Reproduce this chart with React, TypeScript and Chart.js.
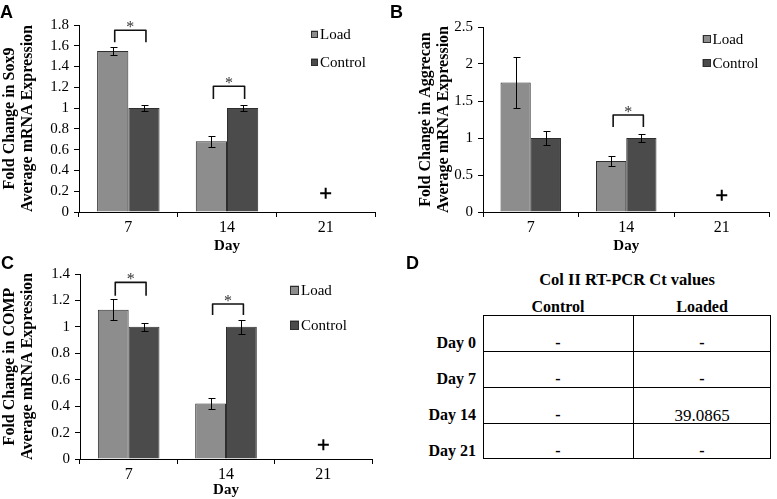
import React, { useEffect, useRef } from 'react';
import { Chart, registerables } from 'chart.js';

Chart.register(...registerables);

const SERIF = "'Liberation Serif', 'Times New Roman', Times, serif";
const SANS = "'Liberation Sans', Arial, Helvetica, sans-serif";

// ---------- shared categories ----------
const days = ['7', '14', '21'];
const seriesNames = ['Load', 'Control'];

// ---------- Panel A : Sox9 ----------
const sox9Load = [1.55, 0.68, null];
const sox9Control = [1.0, 1.0, null];
const sox9LoadErr = [0.04, 0.05, null];
const sox9ControlErr = [0.03, 0.03, null];
const sox9NotDetected = [null, null, 0.18];
const sox9BracketTop = [1.75, 1.21, null];
const sox9BracketLeg = [1.635, 1.087, null];
const sox9Ticks = [0, 0.2, 0.4, 0.6, 0.8, 1, 1.2, 1.4, 1.6, 1.8];

// ---------- Panel B : Aggrecan ----------
const aggLoad = [1.75, 0.69, null];
const aggControl = [1.0, 1.0, null];
const aggLoadErr = [0.35, 0.07, null];
const aggControlErr = [0.09, 0.06, null];
const aggNotDetected = [null, null, 0.226];
const aggBracketTop = [null, 1.31, null];
const aggBracketLeg = [null, 1.15, null];
const aggTicks = [0, 0.5, 1, 1.5, 2, 2.5];

// ---------- Panel C : COMP ----------
const compLoad = [1.13, 0.42, null];
const compControl = [1.0, 1.0, null];
const compLoadErr = [0.08, 0.04, null];
const compControlErr = [0.03, 0.055, null];
const compNotDetected = [null, null, 0.108];
const compBracketTop = [1.337, 1.173, null];
const compBracketLeg = [1.236, 1.09, null];
const compTicks = [0, 0.2, 0.4, 0.6, 0.8, 1, 1.2, 1.4];

// ---------- Panel D : table ----------
const tableTitle = 'Col II RT-PCR Ct values';
const tableHeaders = ['Control', 'Loaded'];
const tableRows = ['Day 0', 'Day 7', 'Day 14', 'Day 21'];
const tableControl = ['-', '-', '-', '-'];
const tableLoaded = ['-', '-', '39.0865', '-'];

const LOAD_COLOR = '#8d8d8d';
const CONTROL_COLOR = '#4b4b4b';
const BAR_BORDER = '#2e2e2e';

type Panel = {
  id: string;
  x: number; y: number; w: number; h: number;
  yAxisW: number; padTop: number; padRight: number; xAxisH: number;
  yTitlePad: number; xTitlePad: number;
  yTitle: string[];
  ticks: number[];
  load: (number | null)[]; control: (number | null)[];
  loadErr: (number | null)[]; controlErr: (number | null)[];
  nd: (number | null)[];
  bTop: (number | null)[]; bLeg: (number | null)[];
  legend: { dx: number; dy: number[]; size: number; gap: number };
};

const panels: Panel[] = [
  {
    id: 'A', x: 0, y: 0, w: 390, h: 260,
    yAxisW: 79, padTop: 25, padRight: 15, xAxisH: 48, yTitlePad: 1, xTitlePad: 6,
    yTitle: ['Fold Change in Sox9', 'Average mRNA Expression'],
    ticks: sox9Ticks,
    load: sox9Load, control: sox9Control, loadErr: sox9LoadErr, controlErr: sox9ControlErr,
    nd: sox9NotDetected, bTop: sox9BracketTop, bLeg: sox9BracketLeg,
    legend: { dx: 64, dy: [9, 37], size: 7, gap: 2 },
  },
  {
    id: 'B', x: 390, y: 0, w: 387, h: 260,
    yAxisW: 93, padTop: 27, padRight: 0, xAxisH: 48, yTitlePad: 27, xTitlePad: 6,
    yTitle: ['Fold Change in Aggrecan', 'Average mRNA Expression'],
    ticks: aggTicks,
    load: aggLoad, control: aggControl, loadErr: aggLoadErr, controlErr: aggControlErr,
    nd: aggNotDetected, bTop: aggBracketTop, bLeg: aggBracketLeg,
    legend: { dx: 67, dy: [12, 36], size: 8, gap: 2 },
  },
  {
    id: 'C', x: 0, y: 250, w: 390, h: 249,
    yAxisW: 80, padTop: 24, padRight: 18, xAxisH: 40, yTitlePad: 1, xTitlePad: 1.5,
    yTitle: ['Fold Change in COMP', 'Average mRNA Expression'],
    ticks: compTicks,
    load: compLoad, control: compControl, loadErr: compLoadErr, controlErr: compControlErr,
    nd: compNotDetected, bTop: compBracketTop, bLeg: compBracketLeg,
    legend: { dx: 82, dy: [16, 51], size: 9, gap: 2 },
  },
];

function buildConfig(p: Panel): any {
  const overlay = {
    id: 'overlay' + p.id,
    afterDatasetsDraw(chart: any) {
      const ctx = chart.ctx;
      const ys = chart.scales.y;
      const m0 = chart.getDatasetMeta(0);
      const m1 = chart.getDatasetMeta(1);
      ctx.save();
      ctx.strokeStyle = '#000';
      ctx.lineWidth = 1;
      const groups: any[] = [
        [p.load, p.loadErr, m0],
        [p.control, p.controlErr, m1],
      ];
      groups.forEach(([vals, errs, meta]) => {
        vals.forEach((v: number | null, i: number) => {
          const e = errs[i];
          if (v == null || e == null) return;
          const el = meta.data[i];
          if (!el) return;
          const x = Math.round(el.x) + 0.5;
          const y1 = Math.round(ys.getPixelForValue(v + e)) + 0.5;
          const y2 = Math.round(ys.getPixelForValue(v - e)) + 0.5;
          ctx.beginPath();
          ctx.moveTo(x, y1); ctx.lineTo(x, y2);
          ctx.moveTo(x - 3, y1); ctx.lineTo(x + 4, y1);
          ctx.moveTo(x - 3, y2); ctx.lineTo(x + 4, y2);
          ctx.stroke();
        });
      });
      p.bTop.forEach((t, i) => {
        const leg = p.bLeg[i];
        if (t == null || leg == null) return;
        const xl = m0.data[i].x + 2;
        const xr = m1.data[i].x + 2;
        const yt = ys.getPixelForValue(t);
        const yl = ys.getPixelForValue(leg);
        ctx.lineWidth = 1.6;
        ctx.lineJoin = 'round';
        ctx.strokeStyle = '#111';
        ctx.beginPath();
        ctx.moveTo(xl, yl); ctx.lineTo(xl, yt); ctx.lineTo(xr, yt); ctx.lineTo(xr, yl);
        ctx.stroke();
        ctx.fillStyle = '#333';
        ctx.font = `16px ${SERIF}`;
        ctx.textAlign = 'center';
        ctx.textBaseline = 'alphabetic';
        ctx.fillText('*', (xl + xr) / 2, yt + 2);
      });
      ctx.restore();
    },
    afterDraw(chart: any) {
      const ctx = chart.ctx;
      const area = chart.chartArea;
      const L = p.legend;
      ctx.save();
      [0, 1].forEach((k) => {
        const ds = chart.data.datasets[k];
        const sx = area.right - L.dx;
        const cy = area.top + L.dy[k];
        ctx.fillStyle = ds.backgroundColor;
        ctx.fillRect(sx, cy - L.size / 2, L.size, L.size);
        ctx.strokeStyle = BAR_BORDER;
        ctx.lineWidth = 1;
        ctx.strokeRect(Math.round(sx) + 0.5, Math.round(cy - L.size / 2) + 0.5, L.size - 1, L.size - 1);
        ctx.fillStyle = '#000';
        ctx.font = `15px ${SERIF}`;
        ctx.textAlign = 'left';
        ctx.textBaseline = 'middle';
        ctx.fillText(ds.label, sx + L.size + L.gap, cy + 1);
      });
      ctx.restore();
    },
  };

  return {
    type: 'bar',
    data: {
      labels: days,
      datasets: [
        {
          label: seriesNames[0], data: p.load,
          backgroundColor: LOAD_COLOR, borderColor: BAR_BORDER, borderWidth: 1,
          barPercentage: 1, categoryPercentage: 0.633,
        },
        {
          label: seriesNames[1], data: p.control,
          backgroundColor: CONTROL_COLOR, borderColor: BAR_BORDER, borderWidth: 1,
          barPercentage: 1, categoryPercentage: 0.633,
        },
        {
          type: 'line', label: 'not detected', data: p.nd,
          showLine: false, pointStyle: 'cross', pointRadius: 5.5,
          pointBorderWidth: 2, borderColor: '#000', backgroundColor: '#000',
        },
      ],
    },
    options: {
      responsive: false,
      maintainAspectRatio: false,
      animation: false,
      devicePixelRatio: 1,
      layout: { padding: { top: p.padTop, right: p.padRight, bottom: 0, left: 0 } },
      plugins: { legend: { display: false }, tooltip: { enabled: false }, title: { display: false } },
      events: [],
      scales: {
        x: {
          type: 'category',
          offset: true,
          grid: { offset: true, drawOnChartArea: false, drawTicks: true, tickLength: 5, color: '#000', lineWidth: 1 },
          border: { display: true, color: '#000', width: 1 },
          ticks: { color: '#000', font: { size: 16, family: SERIF }, padding: 1, maxRotation: 0, autoSkip: false },
          title: {
            display: true, text: 'Day', color: '#000',
            font: { size: 15, weight: 'bold', family: SERIF, lineHeight: 1 },
            padding: { top: 0, bottom: p.xTitlePad },
          },
          afterFit: (s: any) => { s.height = p.xAxisH; },
        },
        y: {
          type: 'linear',
          min: p.ticks[0],
          max: p.ticks[p.ticks.length - 1],
          afterBuildTicks: (s: any) => { s.ticks = p.ticks.map((v) => ({ value: v })); },
          grid: { drawOnChartArea: false, drawTicks: true, tickLength: 5, color: '#000', lineWidth: 1 },
          border: { display: true, color: '#000', width: 1 },
          ticks: {
            color: '#000', font: { size: 15, family: SERIF }, padding: 5, autoSkip: false,
            callback: (v: any) => String(v),
          },
          title: {
            display: true, text: p.yTitle, color: '#000',
            font: { size: 16, weight: 'bold', family: SERIF, lineHeight: 1.1 },
            padding: { top: p.yTitlePad, bottom: 0 },
          },
          afterFit: (s: any) => { s.width = p.yAxisW; },
        },
      },
    },
    plugins: [overlay],
  };
}

function BarPanel({ p }: { p: Panel }) {
  const ref = useRef<HTMLCanvasElement>(null);
  useEffect(() => {
    const chart = new Chart(ref.current as HTMLCanvasElement, buildConfig(p));
    return () => chart.destroy();
  }, [p]);
  return (
    <canvas
      ref={ref}
      width={p.w}
      height={p.h}
      style={{ position: 'absolute', left: p.x, top: p.y, width: p.w, height: p.h }}
    />
  );
}

function Txt({ x, cy, size, bold, align, children, family }: any) {
  const tx = align === 'right' ? 'translateX(-100%)' : align === 'center' ? 'translateX(-50%)' : 'none';
  return (
    <div
      style={{
        position: 'absolute', left: x, top: cy - size * 0.5, fontSize: size, lineHeight: `${size}px`,
        fontWeight: bold ? 'bold' : 'normal', whiteSpace: 'nowrap', transform: tx,
        fontFamily: family || SERIF, color: '#000',
      }}
    >
      {children}
    </div>
  );
}

const letters = [
  { t: 'A', x: 0, top: 3 },
  { t: 'B', x: 390, top: 3 },
  { t: 'C', x: 1, top: 254 },
  { t: 'D', x: 406, top: 254 },
];

const TBL = { left: 483, right: 771, top: 315, rowH: 36, mid: 633, colCx: [558, 702], labelRight: 476 };

function TableD() {
  const bottom = TBL.top + TBL.rowH * tableRows.length;
  return (
    <>
      <Txt x={627} cy={280} size={16.5} bold align="center">{tableTitle}</Txt>
      {tableHeaders.map((h, i) => (
        <Txt key={h} x={TBL.colCx[i]} cy={307} size={16} bold align="center">{h}</Txt>
      ))}
      <div style={{
        position: 'absolute', left: TBL.left, top: TBL.top, width: TBL.right - TBL.left,
        height: bottom - TBL.top, border: '1px solid #000', boxSizing: 'border-box',
      }} />
      <div style={{ position: 'absolute', left: TBL.mid, top: TBL.top, width: 1, height: bottom - TBL.top, background: '#000' }} />
      {tableRows.slice(1).map((_, i) => (
        <div key={'h' + i} style={{
          position: 'absolute', left: TBL.left, top: TBL.top + TBL.rowH * (i + 1), width: TBL.right - TBL.left,
          height: 1, background: '#000',
        }} />
      ))}
      {tableRows.map((r, i) => {
        const cy = TBL.top + TBL.rowH * (i + 1) - 8;
        return (
          <React.Fragment key={r}>
            <Txt x={TBL.labelRight} cy={cy} size={16} bold align="right">{r}</Txt>
            <Txt x={TBL.colCx[0]} cy={cy} size={tableControl[i] === '-' ? 16 : 17} bold={tableControl[i] === '-'} align="center">{tableControl[i]}</Txt>
            <Txt x={TBL.colCx[1]} cy={cy} size={tableLoaded[i] === '-' ? 16 : 17} bold={tableLoaded[i] === '-'} align="center">{tableLoaded[i]}</Txt>
          </React.Fragment>
        );
      })}
    </>
  );
}

export default function App() {
  return (
    <div style={{
      position: 'absolute', left: 0, top: 0, width: 777, height: 499, background: '#fff',
      overflow: 'hidden', fontFamily: SERIF, color: '#000',
    }}>
      {panels.map((p) => <BarPanel key={p.id} p={p} />)}
      {letters.map((l) => (
        <div key={l.t} style={{
          position: 'absolute', left: l.x, top: l.top, fontFamily: SANS, fontWeight: 'bold',
          fontSize: 18, lineHeight: '18px', color: '#000',
        }}>{l.t}</div>
      ))}
      <TableD />
    </div>
  );
}
